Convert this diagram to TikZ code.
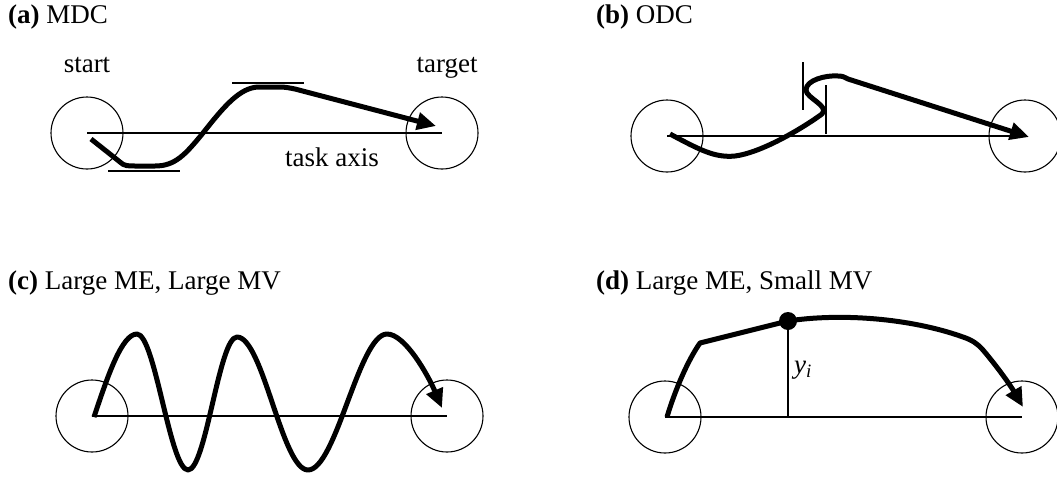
\documentclass[tikz,border=0pt]{standalone}
\usepackage{fontspec}
\setmainfont{Liberation Serif}
\usepackage{tikz}
\usetikzlibrary{arrows.meta, positioning}

\begin{document}
\begin{tikzpicture}[x=1pt, y=-1pt,
  every node/.style={font=\fontsize{27}{31}\selectfont, inner sep=0pt},
  zone/.style={draw, circle, minimum size=72pt, line width=1.1pt},
  axis/.style={line width=1.1pt},
  path/.style={line width=5pt, line join=round},
  pathtip/.style={path, -{Triangle[length=19pt, width=17pt]}}]
  \useasboundingbox (0,0) rectangle (1057,477);
  \clip (0,0) rectangle (1057,477);

  % (a) MDC
  \node[anchor=base west] (titleA) at (8,23) {\textbf{(a)} MDC};
  \node[zone] (startA) at (87,133) {};
  \node[zone] (targetA) at (442,133) {};
  \node[anchor=base] (startlbl) at (87,72) {start};
  \node[anchor=base] (targetlbl) at (447,72) {target};
  \draw[axis] (startA.center) -- (targetA.center)
    node[pos=0.69, below=14pt] (axislbl) {task axis};
  \draw[axis] (232,83) -- (304,83);
  \draw[axis] (108,171) -- (180,171);
  \draw[pathtip] (91,139) -- (120,162) .. controls (124,166) and (128,166) .. (135,166)
    -- (155,166) .. controls (175,166) and (185,155) .. (203,133)
    .. controls (225,105) and (240,88) .. (258,87) -- (280,87)
    .. controls (285,87) and (290,88) .. (295,89) -- (436,126);

  % (b) ODC
  \node[anchor=base west] (titleB) at (596,23) {\textbf{(b)} ODC};
  \node[zone] (startB) at (667,136) {};
  \node[zone] (targetB) at (1025,136) {};
  \draw[axis] (startB.center) -- (targetB.center);
  \draw[axis] (803,62) -- (803,110);
  \draw[axis] (826,85) -- (826,134);
  \draw[pathtip] (670,134) .. controls (700,150) and (715,158) .. (735,156)
    .. controls (760,153) and (800,130) .. (822,114)
    .. controls (830,106) and (806,98) .. (806,90)
    .. controls (806,80) and (826,75) .. (838,76)
    .. controls (842,76) and (845,77) .. (848,79) -- (1029,137);

  % (c) Large ME, Large MV
  \node[anchor=base west] (titleC) at (8,289) {\textbf{(c)} Large ME, Large MV};
  \node[zone] (startC) at (92,416) {};
  \node[zone] (targetC) at (447,416) {};
  \draw[axis] (startC.center) -- (targetC.center);
  \draw[pathtip] (94,417) .. controls (108,375) and (122,334) .. (137,334)
    .. controls (155,334) and (170,470) .. (188,470)
    .. controls (206,470) and (219,337) .. (237,337)
    .. controls (263,337) and (282,470) .. (308,470)
    .. controls (336,470) and (359,334) .. (387,334)
    .. controls (405,334) and (428,375) .. (442,408);

  % (d) Large ME, Small MV
  \node[anchor=base west] (titleD) at (596,289) {\textbf{(d)} Large ME, Small MV};
  \node[zone] (startD) at (665,417) {};
  \node[zone] (targetD) at (1022,417) {};
  \draw[axis] (startD.center) -- (targetD.center);
  \coordinate (foot) at (788,417);
  \node[circle, fill, minimum size=18pt] (sample) at (788,321) {};
  \draw[axis] (sample.center) -- (foot);
  \node[anchor=west] (ylbl) at (794,370) {\textit{y}\textsubscript{\textit{i}}};
  \draw[pathtip] (667,417) .. controls (675,390) and (688,360) .. (700,343)
    -- (sample.center) .. controls (840,313) and (910,318) .. (963,337)
    .. controls (972,340) and (978,344) .. (983,350)
    .. controls (1000,370) and (1012,388) .. (1023,407);
\end{tikzpicture}
\end{document}
